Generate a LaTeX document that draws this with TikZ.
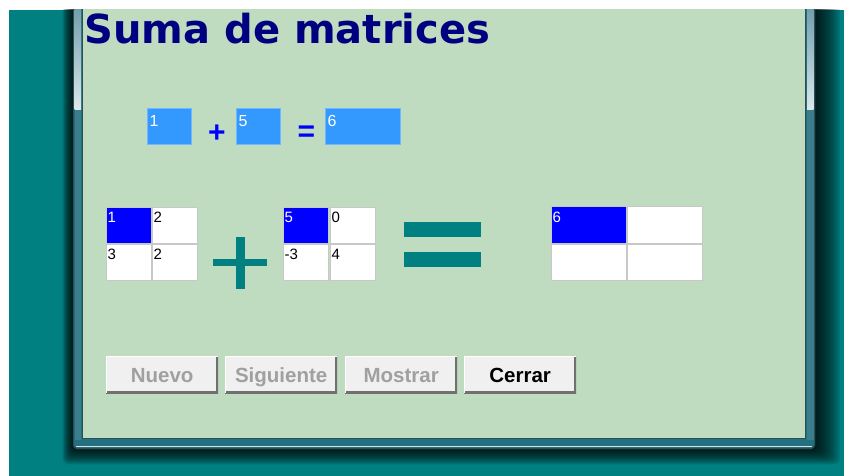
\documentclass[tikz,border=0pt]{standalone}
\usepackage{fontspec}
\setmainfont{Liberation Sans}
\newfontfamily\titlefont{DejaVu Sans}
\definecolor{bgteal}{HTML}{008080}
\definecolor{panel}{HTML}{C0DCC0}
\definecolor{framec}{HTML}{22707F}
\definecolor{framedark}{HTML}{2E4E56}
\definecolor{glasstop}{HTML}{74A0AE}
\definecolor{glassbot}{HTML}{DCE8EC}
\definecolor{glasslow}{HTML}{3A7E8B}
\definecolor{navytitle}{HTML}{000080}
\definecolor{lightblue}{HTML}{3399FF}
\definecolor{cellborder}{HTML}{C8C8C8}
\definecolor{btnface}{HTML}{F0F0F0}
\definecolor{btnshadow}{HTML}{707070}
\definecolor{distext}{HTML}{A0A0A0}
\tikzset{
  cellbox/.style={draw=cellborder, fill=white, line width=0.8pt, minimum width=45pt,
    minimum height=36pt, inner sep=0pt, outer sep=0pt, anchor=north west},
  bluecell/.style={cellbox, fill=blue},
  topbox/.style={draw=lightblue!70!white, fill=lightblue, line width=0.6pt, minimum width=44pt,
    minimum height=36pt, inner sep=0pt, outer sep=0pt, anchor=north west},
  celltxt/.style={anchor=north west, inner sep=0pt, xshift=1.5pt, yshift=-5pt,
    font=\fontsize{15}{15}\selectfont},
  whitetxt/.style={celltxt, text=white},
  blacktxt/.style={celltxt, text=black},
  toptxt/.style={anchor=north west, inner sep=0pt, xshift=2.5pt, yshift=-7pt,
    font=\fontsize{16}{16}\selectfont, text=white},
  bigsym/.style={fill=bgteal},
  btn/.style={fill=btnface, minimum width=112pt, minimum height=37pt, inner sep=0pt,
    anchor=north west, font=\fontsize{20.5}{20.5}\selectfont\bfseries,
    text height=14.7pt, text depth=0pt,
    path picture={
      \draw[btnshadow, line width=4pt] (path picture bounding box.south west) --
        (path picture bounding box.south east) -- (path picture bounding box.north east);
      \draw[white, line width=2.5pt] (path picture bounding box.south west) --
        (path picture bounding box.north west) -- (path picture bounding box.north east);
    }},
  disbtn/.style={btn, text=distext},
  enbtn/.style={btn, text=black}
}
\begin{document}
\begin{tikzpicture}[x=1pt,y=-1pt]
\useasboundingbox (0,0) rectangle (844,476);
\fill[white] (0,0) rectangle (844,476);
\begin{scope}
\clip (9,10) rectangle (844,476);
\fill[bgteal] (9,10) rectangle (844,476);
% window shadow
\foreach \i in {1,...,14} {
  \fill[black, opacity=0.09, rounded corners=6pt]
    ({73-0.75*\i},-30) rectangle ({815+1.8*\i},{449+1.1*\i});
}
% window frame
\fill[framec, rounded corners=4pt] (73,-30) rectangle (815,449);
\draw[framedark, line width=1pt, rounded corners=4pt] (73.5,-30) rectangle (814.5,448.5);
\shade[top color=glasstop, bottom color=glassbot] (74.5,10) rectangle (81,110);
\shade[top color=glasstop, bottom color=glassbot] (807,10) rectangle (813.5,110);
\fill[glasslow] (74.5,110) rectangle (81,440);
\fill[glasslow] (807,110) rectangle (813.5,440);
\draw[white!75!gray, line width=0.8pt] (76,446.5) -- (812,446.5);
% client panel
\fill[panel] (82,-30) rectangle (806,439);
\draw[framedark, line width=1pt] (82.5,-30) -- (82.5,438.5) -- (805.5,438.5) -- (805.5,-30);
% title
\node[anchor=base west, inner sep=0pt, text=navytitle,
      font=\titlefont\fontsize{40}{40}\selectfont\bfseries] (title) at (84.5,43.5) {Suma de matrices};
\end{scope}

% top row
\node[topbox] (ta) at (147,108) {};
\node[toptxt] (tat) at (ta.north west) {1};
\node[anchor=base, inner sep=0pt, text=blue, font=\fontsize{30}{30}\selectfont\bfseries]
  (tplus) at (217,143) {+};
\node[topbox] (tb) at (236,108) {};
\node[toptxt] (tbt) at (tb.north west) {5};
\node[anchor=base, inner sep=0pt, text=blue, font=\fontsize{30}{30}\selectfont\bfseries]
  (teq) at (306.5,142) {=};
\node[topbox, minimum width=75pt] (tc) at (325,108) {};
\node[toptxt] (tct) at (tc.north west) {6};

% matrix A
\node[bluecell] (a11) at (106,207) {};
\node[cellbox] (a12) at (152,207) {};
\node[cellbox] (a21) at (106,244) {};
\node[cellbox] (a22) at (152,244) {};
\node[whitetxt] (a11t) at (a11.north west) {1};
\node[blacktxt] (a12t) at (a12.north west) {2};
\node[blacktxt] (a21t) at (a21.north west) {3};
\node[blacktxt] (a22t) at (a22.north west) {2};

% big plus
\fill[bigsym] (213,259) rectangle (267,266);
\fill[bigsym] (236,237) rectangle (245,289);

% matrix B
\node[bluecell] (b11) at (283,207) {};
\node[cellbox] (b12) at (330,207) {};
\node[cellbox] (b21) at (283,244) {};
\node[cellbox] (b22) at (330,244) {};
\node[whitetxt] (b11t) at (b11.north west) {5};
\node[blacktxt] (b12t) at (b12.north west) {0};
\node[blacktxt] (b21t) at (b21.north west) {-3};
\node[blacktxt] (b22t) at (b22.north west) {4};

% big equals
\fill[bigsym] (404,222) rectangle (481,237);
\fill[bigsym] (404,252) rectangle (481,267);

% result matrix
\node[bluecell, minimum width=75pt, minimum height=37pt] (c11) at (551,206) {};
\node[cellbox, minimum width=75pt, minimum height=37pt] (c12) at (627,206) {};
\node[cellbox, minimum width=75pt] (c21) at (551,244) {};
\node[cellbox, minimum width=75pt] (c22) at (627,244) {};
\node[whitetxt, yshift=-1pt] (c11t) at (c11.north west) {6};

% buttons
\node[disbtn] (nuevo) at (106,356) {Nuevo};
\node[disbtn] (sig) at (225,356) {Siguiente};
\node[disbtn] (mostrar) at (345,356) {Mostrar};
\node[enbtn] (cerrar) at (464,356) {Cerrar};
\end{tikzpicture}
\end{document}
